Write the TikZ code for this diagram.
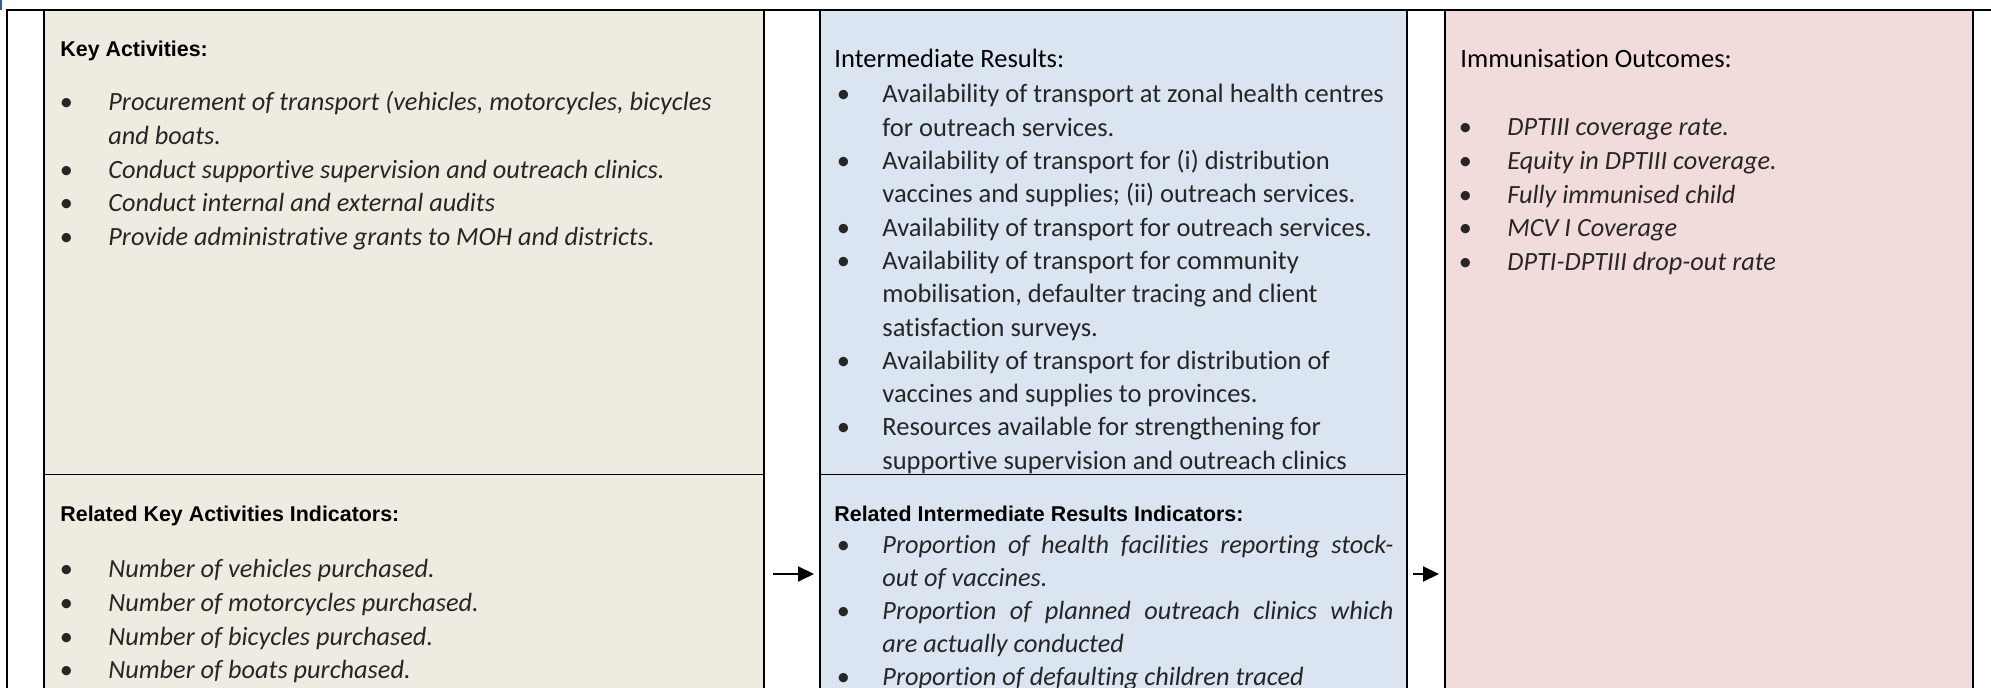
\documentclass[tikz,border=0pt]{standalone}
\usepackage{fontspec}
\usepackage{array}
\setmainfont{Carlito}[Ligatures=NoCommon]
\newfontfamily\headfont{Liberation Sans}
\usetikzlibrary{arrows.meta}

\definecolor{tan}{HTML}{EEECE1}
\definecolor{paleblue}{HTML}{DBE5F1}
\definecolor{palerose}{HTML}{F2DCDB}
\definecolor{framemark}{HTML}{2F6388}
\definecolor{ink}{HTML}{262626}

% bullet centred on the left edge of its column
\newcommand\bul{\makebox[0pt]{\textbullet}}
\newcommand\bodysize{\fontsize{13.15}{16.8}\selectfont}
\newcommand\uprightsize{\fontsize{13.25}{16.65}\selectfont}
\newcommand\headsize{\fontsize{10.7}{13}\selectfont\headfont\bfseries}

\begin{document}
\begin{tikzpicture}[x=0.5pt,y=-0.5pt,
  panel/.style={anchor=north west, inner sep=0pt, outer sep=0pt, draw=none},
  border/.style={line width=1pt},
  divider/.style={line width=0.5pt},
  heading/.style={anchor=base west, inner sep=0pt, font=\headsize},
  title/.style={anchor=base west, inner sep=0pt, font=\uprightsize},
  list/.style={anchor=base west, inner sep=0pt, font=\bodysize, text=ink},
  arr/.style={line width=1pt, -{Triangle[length=8pt,width=7.5pt]}}]

\clip (0,0) rectangle (1991,688);

% coloured panels
\node[panel, fill=tan, minimum width=360pt, minimum height=232.5pt] (act) at (44,10) {};
\node[panel, fill=tan, minimum width=360pt, minimum height=125pt] (acti) at (44,475) {};
\node[panel, fill=paleblue, minimum width=293.5pt, minimum height=232.5pt] (res) at (820,10) {};
\node[panel, fill=paleblue, minimum width=293.5pt, minimum height=125pt] (resi) at (820,475) {};
\node[panel, fill=palerose, minimum width=264pt, minimum height=357.5pt] (out) at (1445,10) {};

% key activities
\node[heading] (acth) at (60,56.5) {Key Activities:};
\node[list] (actl) at (66,111) {\begin{tabular}[t]{@{}p{21pt}@{}>{\itshape}l@{}}
\bul & Procurement of transport (vehicles, motorcycles, bicycles\\
     & and boats.\\
\bul & Conduct supportive supervision and outreach clinics.\\
\bul & Conduct internal and external audits\\
\bul & Provide administrative grants to MOH and districts.
\end{tabular}};

\node[heading] (actih) at (60,522) {Related Key Activities Indicators:};
\node[list] (actil) at (66,578) {\begin{tabular}[t]{@{}p{21pt}@{}>{\itshape}l@{}}
\bul & Number of vehicles purchased.\\
\bul & Number of motorcycles purchased.\\
\bul & Number of bicycles purchased.\\
\bul & Number of boats purchased.
\end{tabular}};

% intermediate results
\node[title] (resh) at (834,68) {Intermediate Results:};
\node[list] (resl) at (843,103) {\uprightsize\begin{tabular}[t]{@{}p{19.5pt}@{}l@{}}
\bul & Availability of transport at zonal health centres\\
     & for outreach services.\\
\bul & Availability of transport for (i) distribution\\
     & vaccines and supplies; (ii) outreach services.\\
\bul & Availability of transport for outreach services.\\
\bul & Availability of transport for community\\
     & mobilisation, defaulter tracing and client\\
     & satisfaction surveys.\\
\bul & Availability of transport for distribution of\\
     & vaccines and supplies to provinces.\\
\bul & Resources available for strengthening for\\
     & supportive supervision and outreach clinics
\end{tabular}};

\node[heading] (resih) at (834,522) {Related Intermediate Results Indicators:};
\node[list] (resil) at (843,554) {\fontsize{13.15}{16.5}\selectfont\begin{tabular}[t]{@{}p{19.5pt}@{}>{\itshape}l@{}}
\bul & \makebox[255.5pt][s]{Proportion of health facilities reporting stock-}\\
     & out of vaccines.\\
\bul & \makebox[255.5pt][s]{Proportion of planned outreach clinics which}\\
     & are actually conducted\\
\bul & Proportion of defaulting children traced
\end{tabular}};

% immunisation outcomes
\node[title] (outh) at (1460,68) {Immunisation Outcomes:};
\node[list] (outl) at (1465,136) {\begin{tabular}[t]{@{}p{21pt}@{}>{\itshape}l@{}}
\bul & DPTIII coverage rate.\\
\bul & Equity in DPTIII coverage.\\
\bul & Fully immunised child\\
\bul & MCV I Coverage\\
\bul & DPTI-DPTIII drop-out rate
\end{tabular}};

% frame and panel outlines
\fill[framemark] (0,0) rectangle (2,10);
\draw[border] (6.5,700) -- (6.5,10) -- (1991,10);
\foreach \upper/\lower in {act/acti, res/resi, out/out} {
  \draw[border] (\upper.north west) -- (\lower.south west);
  \draw[border] (\upper.north east) -- (\lower.south east);
}
\draw[divider] (act.south west) -- (act.south east);
\draw[divider] (res.south west) -- (res.south east);

% flow arrows
\coordinate (lane) at (0,574);
\draw[arr, shorten <=4.5pt, shorten >=3pt] (acti.east |- lane) -- (resi.west |- lane);
\draw[arr, shorten <=3pt, shorten >=3pt] (resi.east |- lane) -- (out.west |- lane);
\end{tikzpicture}
\end{document}
